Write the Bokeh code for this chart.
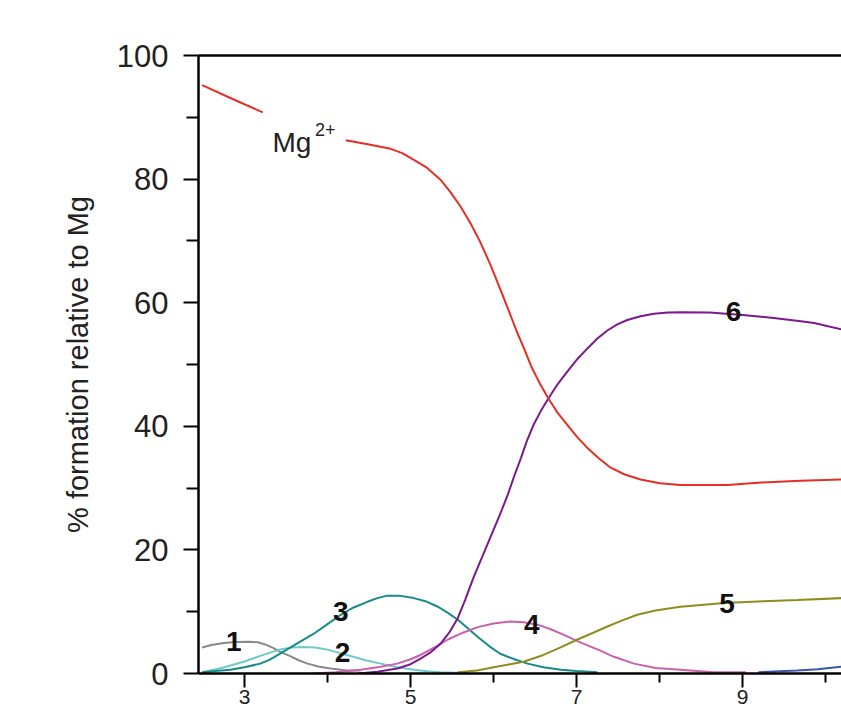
import numpy as np
from bokeh.plotting import figure
from bokeh.models import FixedTicker, LinearAxis, Range1d, Label, ColumnDataSource
from bokeh.core.properties import value
from bokeh.embed import file_html
from bokeh.resources import INLINE

# ---- data ----
mg_x = [2.49, 2.85, 3.22, np.nan, 4.22, 4.5, 4.76, 4.9, 5.04, 5.2, 5.36, 5.48, 5.6, 5.72, 5.84,
        5.96, 6.08, 6.18, 6.28, 6.37, 6.45, 6.55, 6.66, 6.77, 6.89, 7.01, 7.13, 7.27, 7.41,
        7.58, 7.77, 8.0, 8.25, 8.82, 9.22, 9.7, 10.19]
mg_y = [95.2, 93.0, 90.8, np.nan, 86.3, 85.6, 84.9, 84.2, 83.1, 81.8, 79.9, 77.9, 75.6, 72.9, 69.8,
        66.2, 62.2, 58.8, 55.3, 52.5, 49.8, 47.1, 44.5, 42.2, 40.2, 38.2, 36.5, 34.8, 33.3,
        32.2, 31.4, 30.8, 30.5, 30.5, 30.9, 31.2, 31.4]

s1_x = [2.49, 2.6, 2.75, 2.9, 3.05, 3.16, 3.25, 3.35, 3.43, 3.55, 3.66, 3.76, 3.9, 4.04, 4.24, 4.4]
s1_y = [4.2, 4.6, 4.95, 5.1, 5.15, 5.05, 4.7, 4.1, 3.5, 2.8, 2.1, 1.6, 1.1, 0.8, 0.5, 0.5]

s2_x = [2.49, 2.7, 2.99, 3.2, 3.43, 3.57, 3.71, 3.85, 3.99, 4.15, 4.31, 4.47, 4.64, 4.84, 5.04,
        5.2, 5.36, 5.69]
s2_y = [0.2, 0.8, 1.9, 2.9, 3.9, 4.2, 4.3, 4.2, 3.9, 3.3, 2.7, 2.1, 1.6, 1.0, 0.6,
        0.35, 0.2, 0.1]

s3_x = [2.49, 2.65, 2.83, 3.0, 3.19, 3.3, 3.43, 3.6, 3.83, 4.0, 4.16, 4.3, 4.48, 4.6, 4.72,
        4.86, 5.04, 5.2, 5.33, 5.45, 5.57, 5.7, 5.81, 5.95, 6.08, 6.25, 6.41, 6.6, 6.81, 7.0, 7.25]
s3_y = [0.2, 0.4, 0.6, 1.0, 1.6, 2.2, 3.2, 4.6, 6.4, 8.0, 9.5, 10.6, 11.6, 12.2, 12.6,
        12.6, 12.2, 11.6, 10.8, 9.8, 8.7, 7.2, 5.9, 4.4, 3.2, 2.3, 1.6, 1.0, 0.6, 0.4, 0.2]

s4_x = [3.82, 4.1, 4.4, 4.64, 4.84, 5.0, 5.12, 5.3, 5.45, 5.63, 5.81, 6.0, 6.2, 6.36, 6.53,
        6.68, 6.84, 7.05, 7.25, 7.45, 7.69, 7.95, 8.25, 8.65, 9.04]
s4_y = [0.0, 0.2, 0.6, 1.1, 1.6, 2.3, 3.0, 4.3, 5.5, 6.6, 7.5, 8.1, 8.4, 8.3, 7.9,
        7.2, 6.3, 5.0, 3.9, 2.7, 1.6, 0.9, 0.6, 0.2, 0.2]

s5_x = [5.57, 5.8, 6.0, 6.2, 6.36, 6.6, 6.8, 7.01, 7.2, 7.37, 7.55, 7.73, 7.95, 8.25, 8.5,
        8.77, 9.25, 9.66, 10.19]
s5_y = [0.2, 0.5, 1.0, 1.5, 1.9, 3.0, 4.2, 5.5, 6.6, 7.6, 8.6, 9.5, 10.2, 10.8, 11.1,
        11.4, 11.7, 11.9, 12.2]

s6_x = [4.37, 4.6, 4.84, 5.0, 5.12, 5.25, 5.36, 5.47, 5.57, 5.66, 5.76, 5.86, 5.96, 6.07, 6.17,
        6.25, 6.33, 6.4, 6.48, 6.57, 6.66, 6.77, 6.89, 7.01, 7.13, 7.25, 7.37, 7.49, 7.61,
        7.77, 7.93, 8.1, 8.25, 8.6, 9.0, 9.4, 9.7, 9.86, 10.19]
s6_y = [0.0, 0.3, 0.8, 1.5, 2.4, 3.5, 4.8, 6.7, 9.0, 12.0, 15.6, 18.8, 22.0, 25.5, 28.9,
        32.0, 34.9, 37.6, 40.2, 42.5, 44.5, 46.8, 48.9, 50.9, 52.6, 54.2, 55.5, 56.5, 57.2,
        57.8, 58.2, 58.4, 58.45, 58.4, 58.0, 57.5, 57.0, 56.7, 55.7]

s7_x = [9.19, 9.66, 9.9, 10.19]
s7_y = [0.2, 0.5, 0.7, 1.1]

x_major = [3, 5, 7, 9]
x_minor = [4, 6, 8, 10]
y_major = [0, 20, 40, 60, 80, 100]
y_minor = [10, 30, 50, 70, 90]

curve_labels = ["1", "2", "3", "4", "5", "6"]
curve_label_x = [2.87, 4.18, 4.16, 6.46, 8.81, 8.89]
curve_label_y = [5.2, 3.4, 10.0, 8.0, 11.3, 58.5]

FONT = "Liberation Sans"

p = figure(width=841, height=717, output_backend="svg", toolbar_location=None,
           x_range=Range1d(2.446, 10.19), y_range=Range1d(0, 100),
           min_border_left=198, min_border_right=0, min_border_top=55, min_border_bottom=44,
           x_axis_location=None, y_axis_location=None)
p.background_fill_color = "white"
p.border_fill_color = "white"
p.outline_line_color = None
p.grid.visible = False

# y axis
yax = LinearAxis(ticker=FixedTicker(ticks=y_major, minor_ticks=y_minor))
yax.axis_label = "% formation relative to Mg"
yax.axis_label_text_font = FONT
yax.axis_label_text_font_size = "29px"
yax.axis_label_text_font_style = "normal"
yax.axis_label_text_color = "#222222"
yax.axis_label_standoff = 20
yax.major_label_text_font = FONT
yax.major_label_text_font_size = "31px"
yax.major_label_text_color = "#222222"
yax.major_label_standoff = 15
yax.major_tick_in = 0
yax.major_tick_out = 15
yax.minor_tick_in = 0
yax.minor_tick_out = 12
yax.axis_line_width = 2.5
yax.major_tick_line_width = 2
yax.minor_tick_line_width = 2
yax.axis_line_color = "black"
p.add_layout(yax, "left")

# x axis
xax = LinearAxis(ticker=FixedTicker(ticks=x_major, minor_ticks=x_minor))
xax.major_label_text_font = FONT
xax.major_label_text_font_size = "21px"
xax.major_label_text_color = "#222222"
xax.major_label_standoff = 2
xax.major_tick_in = 0
xax.major_tick_out = 14
xax.minor_tick_in = 0
xax.minor_tick_out = 9
xax.axis_line_width = 2.5
xax.major_tick_line_width = 2
xax.minor_tick_line_width = 2
p.add_layout(xax, "below")

# top frame line
tax = LinearAxis(ticker=FixedTicker(ticks=[]))
tax.major_tick_line_color = None
tax.minor_tick_line_color = None
tax.axis_line_width = 2.5
tax.major_label_standoff = 0
p.add_layout(tax, "above")

# curves
p.line(s1_x, s1_y, line_color="#8a8a8a", line_width=2)
p.line(s2_x, s2_y, line_color="#6fcaca", line_width=2)
p.line(s3_x, s3_y, line_color="#178a8a", line_width=2)
p.line(s4_x, s4_y, line_color="#c862ad", line_width=2)
p.line(s5_x, s5_y, line_color="#8e8e1e", line_width=2)
p.line(s6_x, s6_y, line_color="#7a1a8c", line_width=2)
p.line(s7_x, s7_y, line_color="#3a55b0", line_width=2)
p.line(mg_x, mg_y, line_color="#e52f25", line_width=2)

# curve labels
src = ColumnDataSource(dict(x=curve_label_x, y=curve_label_y, t=curve_labels))
p.text(x="x", y="y", text="t", source=src, text_font=value(FONT), text_font_style="bold",
       text_font_size="28px", text_align="center", text_baseline="middle", text_color="#111111")

# Mg2+ label
p.add_layout(Label(x=3.337, y=86.0, text="Mg", text_font=FONT, text_font_size="28px",
                   text_color="#222222", text_align="left", text_baseline="alphabetic"))
p.add_layout(Label(x=3.85, y=88.0, text="2+", text_font=FONT, text_font_size="18px",
                   text_color="#222222", text_align="left", text_baseline="alphabetic"))

open("out.html", "w").write(file_html(p, INLINE))
